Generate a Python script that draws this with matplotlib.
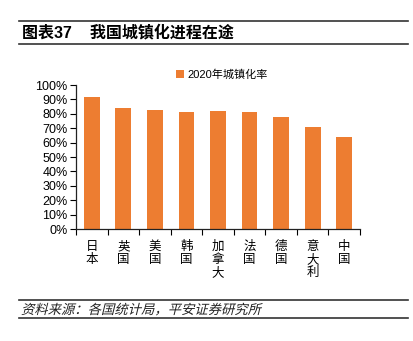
import matplotlib

matplotlib.use("Agg")

import matplotlib.pyplot as plt
import numpy as np
from matplotlib.font_manager import FontProperties
from matplotlib.lines import Line2D
from matplotlib.patches import PathPatch
from matplotlib.textpath import TextPath
from matplotlib.transforms import Affine2D
from matplotlib.ticker import FixedLocator, PercentFormatter

countries = ["日本", "英国", "美国", "韩国", "加拿大", "法国", "德国", "意大利", "中国"]
urban_rate = [91.8, 83.9, 82.7, 81.4, 81.6, 81.0, 77.5, 71.0, 63.9]
series_name = "2020年城镇化率"
title = "图表37    我国城镇化进程在途"
source = "资料来源：各国统计局，平安证券研究所"

BAR_COLOR = "#ED7D31"
plt.rcParams["font.family"] = ["Liberation Sans", "Noto Sans CJK SC", "DejaVu Sans"]

W, H = 413, 341
fig = plt.figure(figsize=(W / 100, H / 100), dpi=100)


def fy(py):
    return 1 - py / H


# header and footer rules
for py in (21, 44, 300, 318):
    fig.add_artist(Line2D([19 / W, 408 / W], [fy(py), fy(py)], color="#333333", lw=1.2))

fig.text(22 / W, fy(32.5), title, fontsize=11.5, fontweight="bold", va="center", ha="left",
         family=["Liberation Sans", "Noto Sans CJK SC"])

# footer is slanted (fake italic, the CJK font has no italic face)
src_path = TextPath((0, 0), source, size=9.6, prop=FontProperties(family="Noto Sans CJK SC"))
src_tf = (Affine2D().skew_deg(14, 0).scale(1 / 72).translate(21 / 100, (H - 314) / 100)
          + fig.dpi_scale_trans)
fig.add_artist(PathPatch(src_path, transform=src_tf, facecolor="#222222", edgecolor="none"))

ax = fig.add_axes([76 / W, fy(229), (360 - 76) / W, (229 - 85) / H])
x = np.arange(len(countries))
ax.bar(x, urban_rate, width=0.5, color=BAR_COLOR, label=series_name)

ax.set_xlim(-0.5, len(countries) - 0.5)
ax.set_ylim(0, 100)
ax.yaxis.set_major_locator(FixedLocator(np.arange(0, 101, 10)))
ax.yaxis.set_major_formatter(PercentFormatter(decimals=0))
ax.tick_params(axis="y", labelsize=9, length=4, width=0.8, pad=2, direction="out")

ax.set_xticks(x)
ax.set_xticklabels(["\n".join(c) for c in countries], fontsize=9, va="top",
                   linespacing=1.0, family=["Noto Sans CJK SC"])
ax.tick_params(axis="x", length=0, pad=8)
ax.set_xticks(np.arange(-0.5, len(countries), 1.0), minor=True)
ax.tick_params(axis="x", which="minor", length=4, width=0.8, direction="out")

for side in ("top", "right"):
    ax.spines[side].set_visible(False)
for side in ("left", "bottom"):
    ax.spines[side].set_linewidth(0.9)
    ax.spines[side].set_color("#222222")

ax.legend(loc="center", bbox_to_anchor=((222 - 76) / (360 - 76), (229 - 75) / (229 - 85)),
          frameon=False, handlelength=0.7, handleheight=0.7, handletextpad=0.3,
          prop={"family": ["Liberation Sans", "Noto Sans CJK SC"], "size": 8})

fig.savefig("out.png", dpi=100, facecolor="white")
